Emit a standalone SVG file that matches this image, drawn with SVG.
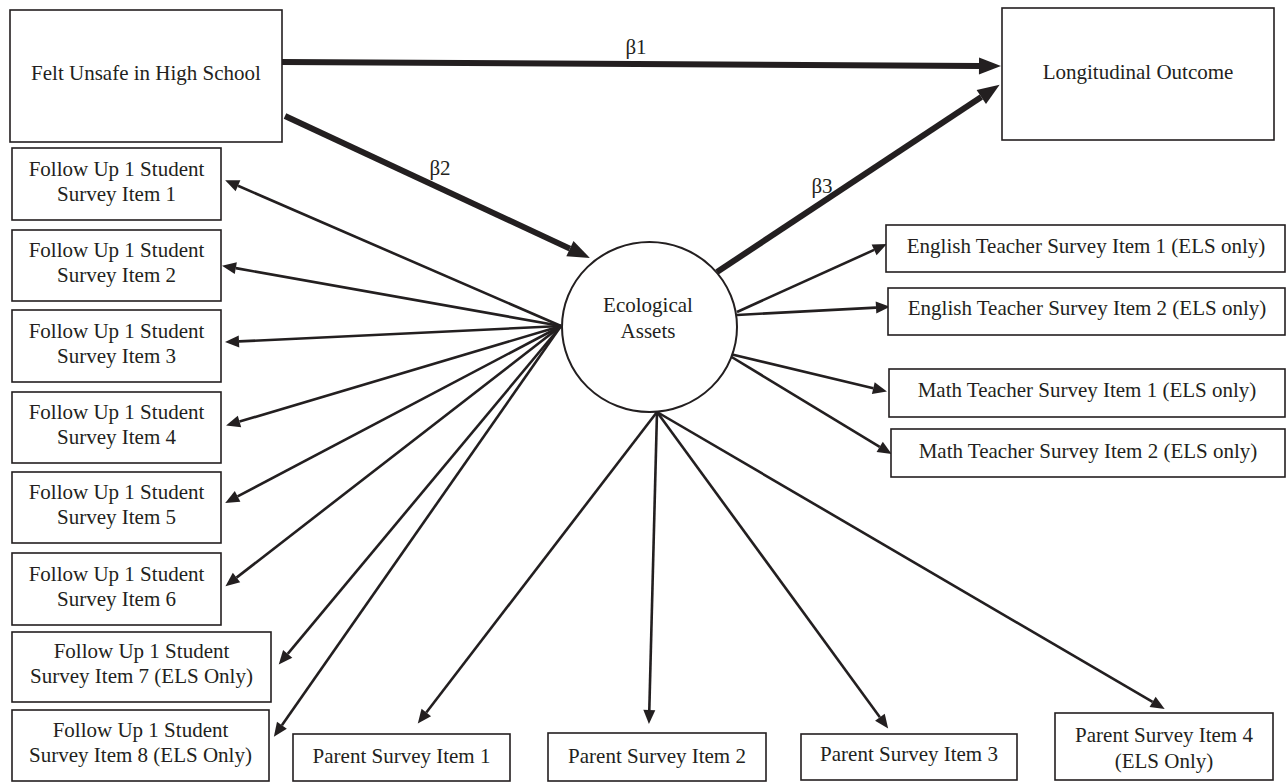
<svg xmlns="http://www.w3.org/2000/svg" width="1286" height="782" viewBox="0 0 1286 782">
<style>
.box{fill:#fff;stroke:#231f20;stroke-width:1.6}
.t{font-family:"Liberation Serif","Times New Roman",serif;font-size:21px;fill:#231f20;text-anchor:middle}
.thin{stroke:#231f20;stroke-width:2.6;fill:none;marker-end:url(#ah)}
.thick{stroke:#231f20;stroke-width:6;fill:none;marker-end:url(#AH)}
</style>
<defs>
<marker id="ah" markerUnits="userSpaceOnUse" markerWidth="16" markerHeight="14" refX="0" refY="6" orient="auto" overflow="visible">
<path d="M0,0 L14,6 L0,12 z" fill="#231f20"/>
</marker>
<marker id="AH" markerUnits="userSpaceOnUse" markerWidth="24" markerHeight="18" refX="0" refY="8.5" orient="auto" overflow="visible">
<path d="M0,0 L22,8.5 L0,17 z" fill="#231f20"/>
</marker>
</defs>
<rect width="1286" height="782" fill="#fff"/>
<g id="connectors">
<line class="thick" x1="282" y1="62" x2="979" y2="65.9"/>
<line class="thick" x1="285" y1="116" x2="569.9" y2="248.6"/>
<line class="thick" x1="717" y1="272" x2="981.3" y2="97"/>
<line class="thin" x1="561" y1="326" x2="238" y2="185.8"/>
<line class="thin" x1="561" y1="326" x2="235.8" y2="268.1"/>
<line class="thin" x1="561" y1="326" x2="239" y2="341.4"/>
<line class="thin" x1="561" y1="326" x2="239.5" y2="421.6"/>
<line class="thin" x1="561" y1="326" x2="237.6" y2="496.4"/>
<line class="thin" x1="561" y1="326" x2="236.5" y2="577.6"/>
<line class="thin" x1="561" y1="326" x2="287.7" y2="653.8"/>
<line class="thin" x1="561" y1="326" x2="281.9" y2="725.2"/>
<line class="thin" x1="657" y1="412" x2="426.3" y2="712.5"/>
<line class="thin" x1="657" y1="412" x2="649.3" y2="710"/>
<line class="thin" x1="657" y1="412" x2="879.9" y2="717.3"/>
<line class="thin" x1="657" y1="412" x2="1152.6" y2="701.9"/>
<line class="thin" x1="737" y1="312" x2="874.1" y2="249.9"/>
<line class="thin" x1="737" y1="315" x2="876" y2="307.6"/>
<line class="thin" x1="730" y1="354" x2="873.3" y2="388.2"/>
<line class="thin" x1="730" y1="356" x2="879.7" y2="446.8"/>
<text class="t" x="636" y="54">β1</text>
<text class="t" x="440" y="175">β2</text>
<text class="t" x="822" y="193">β3</text>
</g>
<g id="felt"><rect class="box" x="10" y="10" width="272" height="132"/><text class="t" x="146" y="80">Felt Unsafe in High School</text></g>
<g id="outcome"><rect class="box" x="1002" y="8" width="272" height="132"/><text class="t" x="1138" y="79">Longitudinal Outcome</text></g>
<g id="assets"><ellipse cx="649.5" cy="327" rx="87.5" ry="85" fill="#fff" stroke="#231f20" stroke-width="2"/><text class="t" x="648" y="312">Ecological</text><text class="t" x="648" y="338">Assets</text></g>
<g id="fu1"><rect class="box" x="12" y="148" width="209" height="72"/><text class="t" x="116.5" y="176">Follow Up 1 Student</text><text class="t" x="116.5" y="201">Survey Item 1</text></g>
<g id="fu2"><rect class="box" x="12" y="230" width="209" height="71"/><text class="t" x="116.5" y="257">Follow Up 1 Student</text><text class="t" x="116.5" y="282">Survey Item 2</text></g>
<g id="fu3"><rect class="box" x="12" y="310" width="209" height="72"/><text class="t" x="116.5" y="338">Follow Up 1 Student</text><text class="t" x="116.5" y="363">Survey Item 3</text></g>
<g id="fu4"><rect class="box" x="12" y="392" width="209" height="71"/><text class="t" x="116.5" y="419">Follow Up 1 Student</text><text class="t" x="116.5" y="444">Survey Item 4</text></g>
<g id="fu5"><rect class="box" x="12" y="472" width="209" height="71"/><text class="t" x="116.5" y="499">Follow Up 1 Student</text><text class="t" x="116.5" y="524">Survey Item 5</text></g>
<g id="fu6"><rect class="box" x="12" y="553" width="209" height="72"/><text class="t" x="116.5" y="581">Follow Up 1 Student</text><text class="t" x="116.5" y="606">Survey Item 6</text></g>
<g id="fu7"><rect class="box" x="12" y="632" width="259" height="70"/><text class="t" x="141.5" y="658">Follow Up 1 Student</text><text class="t" x="141.5" y="683">Survey Item 7 (ELS Only)</text></g>
<g id="fu8"><rect class="box" x="12" y="710" width="257" height="71"/><text class="t" x="140.5" y="737">Follow Up 1 Student</text><text class="t" x="140.5" y="762">Survey Item 8 (ELS Only)</text></g>
<g id="eng1"><rect class="box" x="886" y="225" width="399" height="47"/><text class="t" x="1086" y="253">English Teacher Survey Item 1 (ELS only)</text></g>
<g id="eng2"><rect class="box" x="888" y="288" width="397" height="47"/><text class="t" x="1087" y="315">English Teacher Survey Item 2 (ELS only)</text></g>
<g id="math1"><rect class="box" x="889" y="369" width="396" height="48"/><text class="t" x="1087" y="397">Math Teacher Survey Item 1 (ELS only)</text></g>
<g id="math2"><rect class="box" x="891" y="429" width="394" height="48"/><text class="t" x="1088" y="458">Math Teacher Survey Item 2 (ELS only)</text></g>
<g id="par1"><rect class="box" x="293" y="734" width="217" height="47"/><text class="t" x="401.5" y="763">Parent Survey Item 1</text></g>
<g id="par2"><rect class="box" x="548" y="733" width="218" height="48"/><text class="t" x="657" y="763">Parent Survey Item 2</text></g>
<g id="par3"><rect class="box" x="801" y="734" width="216" height="46"/><text class="t" x="909" y="761">Parent Survey Item 3</text></g>
<g id="par4"><rect class="box" x="1055" y="713" width="218" height="67"/><text class="t" x="1164" y="742">Parent Survey Item 4</text><text class="t" x="1164" y="768">(ELS Only)</text></g>
</svg>
